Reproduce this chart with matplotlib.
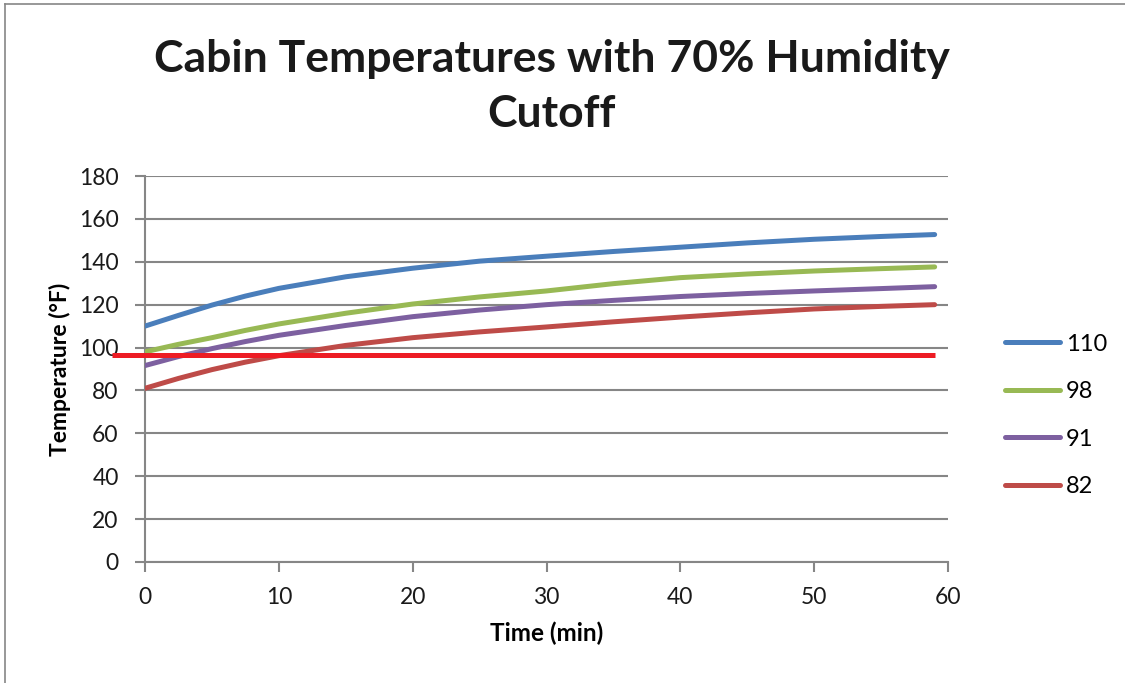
import numpy as np
import matplotlib
matplotlib.use('Agg')
import matplotlib.pyplot as plt
from matplotlib.lines import Line2D

plt.rcParams['font.family'] = ['Lato', 'DejaVu Sans']

time_min = [0, 2.5, 5, 7.5, 10, 15, 20, 25, 30, 35, 40, 45, 50, 55, 59]
t110 = [110, 115, 119.8, 124, 127.6, 133, 137, 140.3, 142.6, 144.8, 146.8, 148.8, 150.5, 151.8, 152.7]
t98 = [98, 101.5, 104.6, 108, 111, 116, 120.3, 123.6, 126.4, 129.8, 132.6, 134.3, 135.7, 136.8, 137.6]
t91 = [91.6, 95.8, 99.5, 102.8, 105.7, 110.3, 114.4, 117.5, 120, 122, 123.8, 125.2, 126.4, 127.5, 128.4]
t82 = [81, 85.6, 89.7, 93.2, 96.2, 101, 104.6, 107.3, 109.6, 112, 114.2, 116.2, 118, 119.2, 120]
series_names = ['110', '98', '91', '82']
colors = ['#4a7ebb', '#98b954', '#7d60a0', '#be4b48']
cutoff = 96.7
cutoff_x = [-2.5, 59]

fig = plt.figure(figsize=(11.25, 6.83), dpi=100)
ax = fig.add_axes([0.1289, 0.1772, 0.8427 - 0.1289, 0.7423 - 0.1772])

for vals, name, c in zip([t110, t98, t91, t82], series_names, colors):
    ax.plot(time_min, vals, color=c, lw=3.6, solid_capstyle='round', solid_joinstyle='round', label=name, zorder=3)

ax.plot(cutoff_x, [cutoff, cutoff], color='#ed1c24', lw=3.6, solid_capstyle='butt', clip_on=False, zorder=4)

ax.set_xlim(0, 60)
ax.set_ylim(0, 180)
ax.set_xticks(np.arange(0, 61, 10))
ax.set_yticks(np.arange(0, 181, 20))
ax.grid(axis='y', color='#868686', lw=1.5)
ax.set_axisbelow(True)
for s in ['top', 'right']:
    ax.spines[s].set_visible(False)
for s in ['left', 'bottom']:
    ax.spines[s].set_color('#868686')
    ax.spines[s].set_linewidth(1.5)
ax.tick_params(axis='both', direction='out', length=7, width=1.5, color='#868686',
               labelsize=16.5, labelcolor='#1a1a1a')
ax.tick_params(axis='x', pad=11)
ax.tick_params(axis='y', pad=12)

ax.set_xlabel('Time (min)', fontsize=17.5, fontweight='bold', labelpad=10)
ax.set_ylabel('Temperature (°F)', fontsize=16.5, fontweight='bold', labelpad=6)

fig.text(0.4905, 0.873, 'Cabin Temperatures with 70% Humidity\nCutoff', ha='center', va='center',
         fontsize=32, fontweight='bold', linespacing=1.45, color='#1a1a1a')

leg = ax.legend(loc='center left', bbox_to_anchor=(1.044, 0.38), frameon=False, fontsize=17,
                handlelength=2.33, labelspacing=1.12, handletextpad=0.25)

fig.add_artist(Line2D([0.004, 1], [0.994, 0.994], color='#868686', lw=1.2, transform=fig.transFigure))
fig.add_artist(Line2D([0.004, 0.004], [0, 0.994], color='#868686', lw=1.2, transform=fig.transFigure))

fig.savefig('out.png', dpi=100)
